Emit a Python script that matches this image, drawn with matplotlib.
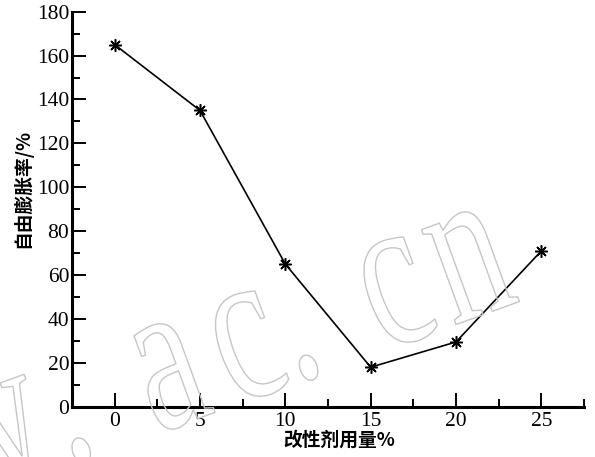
import matplotlib
import matplotlib.pyplot as plt
import numpy as np
from matplotlib.font_manager import FontProperties
from matplotlib.patches import PathPatch
from matplotlib.textpath import TextPath
from matplotlib.transforms import Affine2D, IdentityTransform
from matplotlib.ticker import MultipleLocator

plt.switch_backend("agg")

# modifier dosage (%) and free swelling ratio (%)
dosage = [0, 5, 10, 15, 20, 25]
swelling = [165, 135, 65, 18, 29.5, 71]

x_ticks = [0, 5, 10, 15, 20, 25]
y_ticks = [0, 20, 40, 60, 80, 100, 120, 140, 160, 180]

xlabel = "改性剂用量%"
ylabel = "自由膨胀率/%"

# watermark glyphs and their centre offsets along the slanted baseline (px)
wm_chars = ["w", ".", "a", "c", ".", "c", "n"]
wm_offsets = [-322, -242, -132, -50, 0, 108, 187]

W, H = 595, 457
fig = plt.figure(figsize=(W / 100, H / 100), dpi=100)
ax = fig.add_axes([72 / W, 1 - 406.7 / H, (584 - 72) / W, (406.7 - 11.7) / H])

ax.plot(dosage, swelling, color="black", linewidth=1.2,
        marker=(8, 2, 0), markersize=9, markeredgewidth=1.1, zorder=3)

ax.set_xlim(-2.5, 27.5)
ax.set_ylim(0, 180)
ax.set_xticks(x_ticks)
ax.set_yticks(y_ticks)
ax.xaxis.set_minor_locator(MultipleLocator(2.5))
ax.yaxis.set_minor_locator(MultipleLocator(10))

for side in ("top", "right"):
    ax.spines[side].set_visible(False)
for side in ("left", "bottom"):
    ax.spines[side].set_linewidth(2.2)

serif = FontProperties(family="Liberation Serif", size=15.5)
ax.tick_params(which="major", direction="in", length=10, width=1.4, pad=4)
ax.tick_params(which="minor", direction="in", length=6, width=1.4)
ax.tick_params(axis="y", pad=2)
for lab in ax.get_xticklabels() + ax.get_yticklabels():
    lab.set_fontproperties(serif)

cjk = ["Noto Sans CJK SC", "DejaVu Sans"]
fig.text(339 / W, 1 - 440 / H, xlabel, family=cjk, fontsize=13.5,
         fontweight="bold", ha="center", va="center")
fig.text(22 / W, 1 - 188 / H, ylabel, family=cjk, fontsize=13.5,
         fontweight="bold", ha="center", va="center", rotation=90)

# outlined watermark, drawn glyph by glyph in pixel space
wm_font = FontProperties(family="Liberation Serif")
angle = 20
origin = np.array([312.0, H - 377.0])
direction = np.array([np.cos(np.radians(angle)), np.sin(np.radians(angle))])
for ch, s in zip(wm_chars, wm_offsets):
    tp = TextPath((0, 0), ch, size=1, prop=wm_font)
    ext = tp.get_extents()
    cx = 0.5 * (ext.x0 + ext.x1)
    px, py = origin + s * direction
    tr = (Affine2D().translate(-cx, 0).scale(146, 220)
          .rotate_deg(angle).translate(px, py))
    fig.patches.append(PathPatch(tr.transform_path(tp), facecolor="none",
                                 edgecolor="#c6c6c6", linewidth=1.0,
                                 transform=IdentityTransform(), zorder=0))

fig.savefig("out.png", dpi=100)
